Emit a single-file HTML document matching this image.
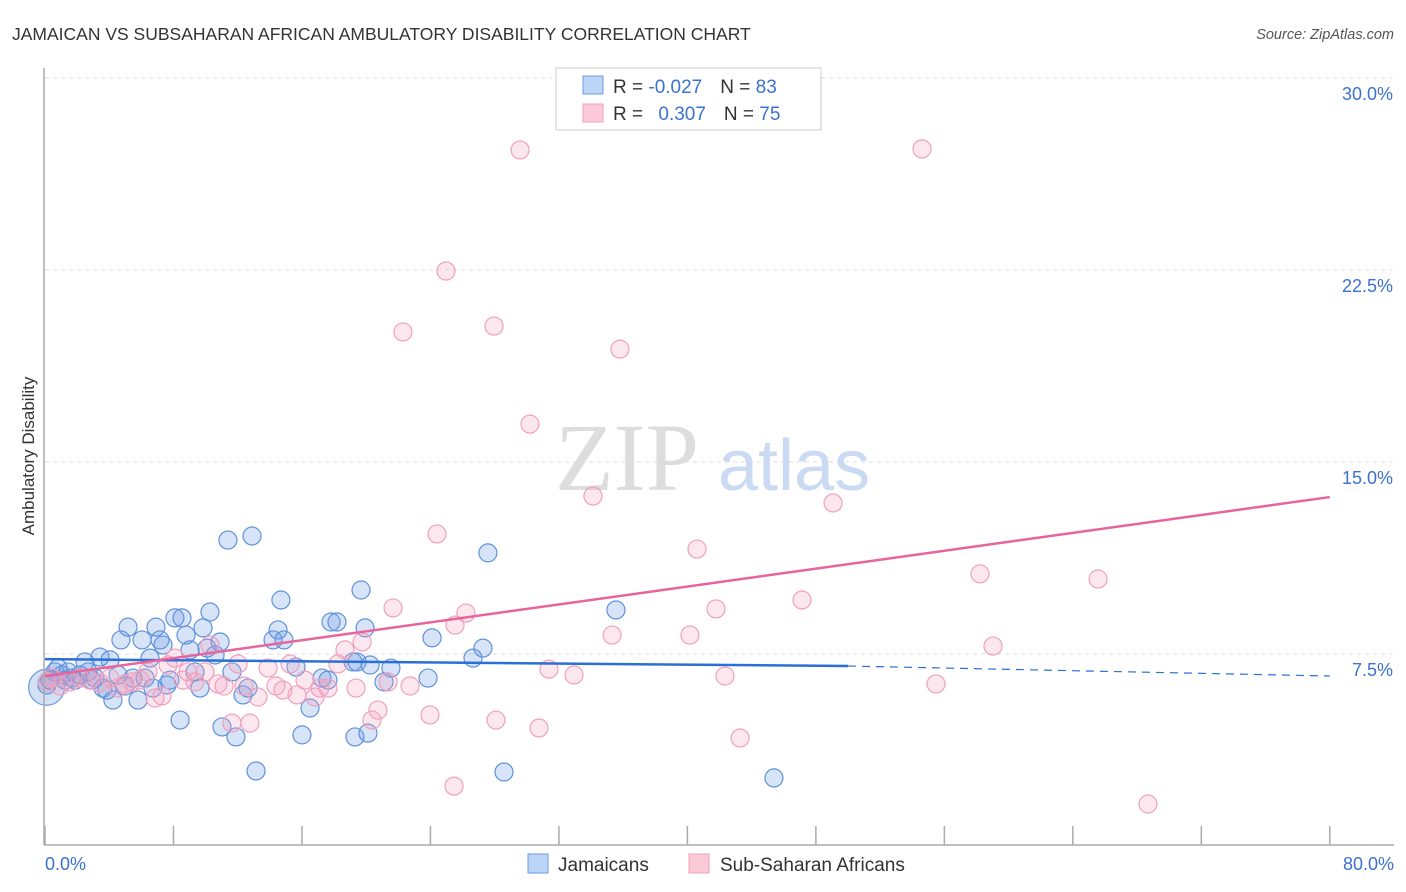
<!DOCTYPE html>
<html><head><meta charset="utf-8"><style>
body{margin:0;background:#fff;font-family:"Liberation Sans",sans-serif;}
svg{display:block}
</style></head><body>
<svg width="1406" height="892" viewBox="0 0 1406 892">
<text x="12" y="40" font-size="17.5" fill="#333">JAMAICAN VS SUBSAHARAN AFRICAN AMBULATORY DISABILITY CORRELATION CHART</text>
<text x="1394" y="39" font-size="14.5" fill="#555" font-style="italic" text-anchor="end">Source: ZipAtlas.com</text>
<g id="grid"></g>
<text x="555" y="490" font-size="96" fill="#ddd" font-family="Liberation Serif,serif">ZIP</text>
<text x="718" y="490" font-size="72" fill="#c9daf2">atlas</text>
<g id="pts"></g>
<g id="trend"></g>
<line x1="44" y1="68" x2="44" y2="845" stroke="#aaa" stroke-width="1.5"/>
<line x1="44" y1="845" x2="1394" y2="845" stroke="#aaa" stroke-width="1.5"/>
<g id="ticks"></g>
<text x="45" y="870" font-size="18" fill="#3a72d0">0.0%</text>
<text x="1394" y="870" font-size="18" fill="#3a72d0" text-anchor="end">80.0%</text>
<text transform="translate(34,456) rotate(-90)" font-size="17" fill="#333" text-anchor="middle">Ambulatory Disability</text>
<g>
<rect x="556" y="68" width="265" height="62" fill="#fff" stroke="#ccc"/>
<rect x="583" y="76" width="20" height="18" fill="#bcd4f6" stroke="#6a9be0"/>
<rect x="583" y="104" width="20" height="18" fill="#fbc9d8" stroke="#f0a0bc"/>
<text x="613" y="93" font-size="19" fill="#333">R = <tspan fill="#3a72d0">-0.027</tspan><tspan dx="18">N = </tspan><tspan fill="#3a72d0">83</tspan></text>
<text x="613" y="120" font-size="19" fill="#333">R = <tspan fill="#3a72d0" dx="10">0.307</tspan><tspan dx="18">N = </tspan><tspan fill="#3a72d0">75</tspan></text>
</g>
<g>
<rect x="528" y="854" width="20" height="19" fill="#bcd4f6" stroke="#6a9be0"/>
<text x="558" y="871" font-size="19" fill="#333">Jamaicans</text>
<rect x="689" y="854" width="20" height="19" fill="#fbc9d8" stroke="#f0a0bc"/>
<text x="720" y="871" font-size="19" fill="#333">Sub-Saharan Africans</text>
</g>
</svg>
<script>
const yTicks=[7.5,15,22.5,30];
const yTickLabels=["7.5%","15.0%","22.5%","30.0%"];
const xTicks=[0,8,16,24,32,40,48,56,64,72,80];
const blueX=[0.12,0.31,0.62,0.81,1.06,1.25,1.43,1.68,1.87,2.18,2.49,2.68,2.93,3.11,3.42,3.61,3.86,4.05,4.23,4.55,4.73,4.98,5.17,5.48,5.79,6.04,6.23,6.54,6.72,6.91,7.16,7.35,7.6,7.78,8.09,8.41,8.53,8.78,9.03,9.34,9.65,9.84,10.09,10.27,10.59,10.9,11.02,11.39,11.64,11.89,12.33,12.64,12.89,13.14,14.2,14.51,14.69,14.88,15.63,16.0,16.5,17.25,17.62,17.81,18.18,19.18,19.3,19.43,19.68,19.93,20.11,20.24,21.11,21.54,23.85,24.1,26.65,27.27,27.58,28.58,35.55,45.39];
const blueY=[6.29,6.48,6.8,6.95,6.68,6.48,6.8,6.56,6.48,6.68,7.19,6.8,6.48,6.56,7.38,6.17,6.09,7.27,5.7,6.68,8.05,6.25,8.55,6.56,5.7,8.05,6.56,7.34,6.17,8.55,8.05,7.85,6.29,6.48,8.91,4.92,8.91,8.24,7.66,6.8,6.17,8.52,7.73,9.14,7.46,7.97,4.65,11.95,6.8,4.26,5.9,6.17,12.11,2.93,8.05,8.44,9.61,8.05,6.99,4.34,5.39,6.56,6.48,8.75,8.75,7.19,4.26,7.19,10.0,8.52,4.41,7.07,6.41,6.95,6.56,8.13,7.34,7.73,11.45,2.89,9.22,2.66];
const pinkX=[0.12,0.44,0.93,1.56,2.18,2.8,3.42,4.05,4.55,4.98,5.42,5.92,6.41,6.85,7.29,7.66,8.09,8.59,8.9,9.34,9.96,10.27,10.77,11.15,11.64,12.02,12.39,12.76,13.26,13.89,14.38,14.82,15.26,15.69,16.19,16.81,17.12,17.62,18.24,18.68,19.37,19.74,20.36,20.73,21.36,21.67,22.29,22.73,23.97,24.41,24.97,25.47,25.53,26.21,27.96,28.08,29.58,30.2,30.76,31.38,32.94,34.12,35.31,35.8,40.16,40.6,41.78,42.34,43.28,47.14,49.07,54.61,55.48,58.22,59.03,65.57,68.68];
const pinkY=[6.41,6.56,6.25,6.41,6.56,6.48,6.37,6.56,6.17,6.33,6.41,6.48,6.8,5.78,5.86,7.07,7.34,6.48,6.8,6.41,6.8,7.85,6.33,6.25,4.8,7.11,6.25,4.8,5.82,6.95,6.25,6.09,7.11,5.9,6.48,5.82,6.17,6.17,7.11,7.66,6.17,7.97,4.92,5.31,6.41,9.3,20.08,6.25,5.12,12.19,22.46,2.34,8.63,9.1,20.31,4.92,27.19,16.48,4.61,6.91,6.68,13.67,8.24,19.41,8.24,11.6,9.26,6.64,4.22,9.61,13.4,27.23,6.33,10.63,7.81,10.43,1.64];
const blueTrend=[7.3,7.03,6.64]; // at x=0, 50, 80
const pinkTrend=[6.64,13.63]; // at x=0, 80
const NS="http://www.w3.org/2000/svg";
function sx(v){return 45+v*16.06;}
function sy(v){return 654-(v-7.5)*25.6;}
function mk(tag,attrs,parent){const e=document.createElementNS(NS,tag);for(const k in attrs)e.setAttribute(k,attrs[k]);parent.appendChild(e);return e;}
const grid=document.getElementById('grid');
yTicks.forEach((t,i)=>{
  const l=mk('line',{x1:45,x2:1394,y1:sy(t),y2:sy(t),stroke:'#ddd','stroke-dasharray':'4,4'},grid);
  
  
  const tx=mk('text',{x:1393,y:sy(t)+22,'font-size':18,fill:'#3a72d0','text-anchor':'end'},grid);
  tx.textContent=yTickLabels[i];
  
  
});
const ticks=document.getElementById('ticks');
xTicks.forEach(t=>{
  const l=mk('line',{x1:sx(t),x2:sx(t),y1:826,y2:845,stroke:'#aaa','stroke-width':1.5},ticks);
  
  
});
const pts=document.getElementById('pts');
let big=mk('circle',{cx:sx(0.1),cy:sy(6.2),r:18,fill:'rgba(110,155,225,0.3)',stroke:'#6a9be0','stroke-width':1.2},pts);


blueX.forEach((x,i)=>{
  const c=mk('circle',{cx:sx(x),cy:sy(blueY[i]),r:9,fill:'rgba(110,155,225,0.28)',stroke:'#5f92dc','stroke-width':1.2},pts);
  
  
});
pinkX.forEach((x,i)=>{
  const c=mk('circle',{cx:sx(x),cy:sy(pinkY[i]),r:9,fill:'rgba(245,160,190,0.25)',stroke:'#f0a0bc','stroke-width':1.2},pts);
  
  
});
const tr=document.getElementById('trend');
let b1=mk('line',{x1:sx(0),y1:sy(blueTrend[0]),x2:sx(50),y2:sy(blueTrend[1]),stroke:'#2a6fd6','stroke-width':2.5},tr);


let b2=mk('line',{x1:sx(50),y1:sy(blueTrend[1]),x2:sx(80),y2:sy(blueTrend[2]),stroke:'#2a6fd6','stroke-width':1.2,'stroke-dasharray':'8,6'},tr);


let p1=mk('line',{x1:sx(0),y1:sy(pinkTrend[0]),x2:sx(80),y2:sy(pinkTrend[1]),stroke:'#e8649a','stroke-width':2.5},tr);


</script>
</body></html>
